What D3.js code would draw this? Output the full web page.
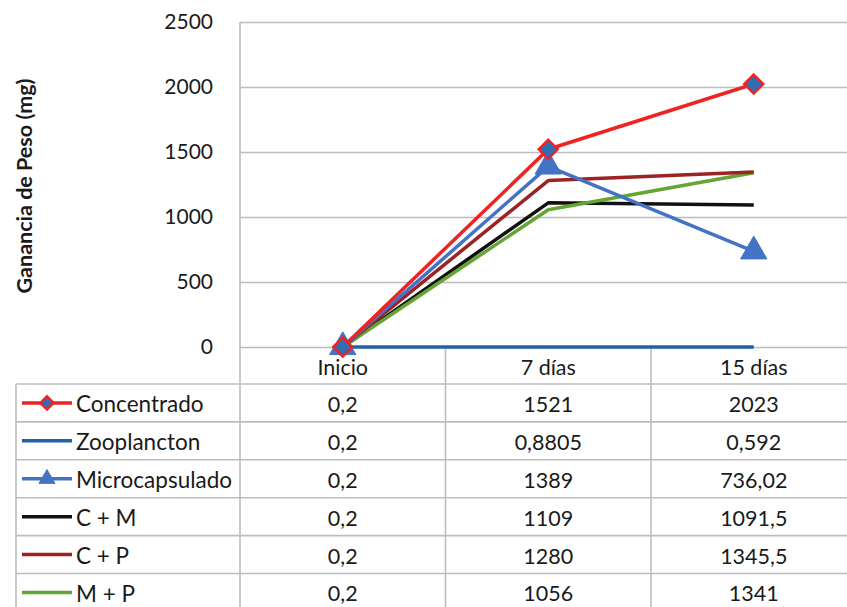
<!DOCTYPE html>
<html>
<head>
<meta charset="utf-8">
<script src="https://cdn.jsdelivr.net/npm/d3@7/dist/d3.min.js"></script>
<style>
  html, body { margin: 0; padding: 0; background: #fff; }
  svg { display: block; }
  text { font-family: Lato, "Open Sans", sans-serif; fill: #1a1a1a; }
</style>
</head>
<body>
<svg id="chart" width="847" height="607"></svg>
<script>
// ---- Data ----
const categories = ["Inicio", "7 días", "15 días"];
const seriesNames = ["Concentrado", "Zooplancton", "Microcapsulado", "C + M", "C + P", "M + P"];
const concentrado    = [0.2, 1521, 2023];
const zooplancton    = [0.2, 0.8805, 0.592];
const microcapsulado = [0.2, 1389, 736.02];
const cm             = [0.2, 1109, 1091.5];
const cp             = [0.2, 1280, 1345.5];
const mp             = [0.2, 1056, 1341];
const yTicks = [0, 500, 1000, 1500, 2000, 2500];
const yTitle = "Ganancia de Peso (mg)";

const seriesValues = [concentrado, zooplancton, microcapsulado, cm, cp, mp];
const seriesColors = ["#ee2424", "#2460a8", "#4472c4", "#111111", "#9b2323", "#65a534"];
const seriesMarkers = ["diamond", null, "triangle", null, null, null];

const series = seriesNames.map((n, i) => ({
  name: n, values: seriesValues[i], color: seriesColors[i], marker: seriesMarkers[i]
}));

// ---- Layout ----
const svg = d3.select("#chart");
const plotLeft = 240, plotTop = 22, plotBottom = 347;
const colW = 205.5;
const tableLeft = 16, tableTop = 384, rowH = 37.9;
const gridColor = "#bdbdbd";

const x = d3.scaleBand().domain(categories).range([plotLeft, plotLeft + colW * categories.length]).padding(0);
const xc = c => x(c) + x.bandwidth() / 2;
const y = d3.scaleLinear().domain([0, 2500]).range([plotBottom, plotTop]);

// gridlines + y labels
const yAxis = d3.axisLeft(y).tickValues(yTicks).tickSizeInner(-(847 - plotLeft)).tickSizeOuter(0).tickPadding(27)
  .tickFormat(d3.format("d"));
const gy = svg.append("g").attr("transform", `translate(${plotLeft},0)`).call(yAxis);
gy.select(".domain").remove();
gy.selectAll(".tick line").attr("stroke", gridColor).attr("stroke-width", 1.6);
gy.selectAll(".tick text").attr("font-size", 21).attr("fill", "#1a1a1a")
  .style("font-family", "Lato, sans-serif");

// y title
svg.append("text")
  .attr("transform", `translate(24,186) rotate(-90)`)
  .attr("text-anchor", "middle").attr("dominant-baseline", "central")
  .attr("font-size", 21.5).attr("font-weight", "bold").text(yTitle);

// ---- Table grid ----
const tableRight = 847;
const nRows = series.length;
const tg = svg.append("g").attr("stroke", gridColor).attr("stroke-width", 1.6);
tg.append("line").attr("x1", plotLeft).attr("x2", plotLeft).attr("y1", plotTop).attr("y2", 607);
categories.slice(1).forEach(c => {
  tg.append("line").attr("x1", x(c)).attr("x2", x(c)).attr("y1", plotBottom).attr("y2", 607);
});
tg.append("line").attr("x1", tableLeft).attr("x2", tableLeft).attr("y1", tableTop).attr("y2", 607);
d3.range(nRows).forEach(i => {
  const yy = tableTop + i * rowH;
  tg.append("line").attr("x1", tableLeft).attr("x2", tableRight).attr("y1", yy).attr("y2", yy);
});

// header labels
svg.append("g").selectAll("text").data(categories).join("text")
  .attr("x", d => xc(d)).attr("y", (plotBottom + tableTop) / 2 + 1)
  .attr("text-anchor", "middle").attr("dominant-baseline", "central")
  .attr("font-size", 21.5).text(d => d);

// value cells
const fmt = v => String(v).replace(".", ",");
series.forEach((s, i) => {
  const cy = tableTop + i * rowH + rowH / 2;
  svg.append("g").selectAll("text").data(s.values).join("text")
    .attr("x", (d, j) => xc(categories[j])).attr("y", cy + 1)
    .attr("text-anchor", "middle").attr("dominant-baseline", "central")
    .attr("font-size", 21.5).text(d => fmt(d));
});

// ---- Marker helpers ----
function drawMarker(g, type, cx, cy, s, size) {
  if (type === "diamond") {
    g.append("path")
      .attr("d", d3.symbol().type(d3.symbolDiamond2).size(size)())
      .attr("transform", `translate(${cx},${cy})`)
      .attr("fill", "#2f6db5").attr("stroke", s.color).attr("stroke-width", 2.5);
  } else if (type === "triangle") {
    g.append("path")
      .attr("d", d3.symbol().type(d3.symbolTriangle).size(size)())
      .attr("transform", `translate(${cx},${cy})`)
      .attr("fill", s.color).attr("stroke", s.color).attr("stroke-width", 1);
  }
}

// ---- Legend keys ----
series.forEach((s, i) => {
  const cy = tableTop + i * rowH + rowH / 2;
  const g = svg.append("g");
  g.append("line").attr("x1", 22).attr("x2", 72).attr("y1", cy).attr("y2", cy)
    .attr("stroke", s.color).attr("stroke-width", 3.5);
  if (s.marker) drawMarker(g, s.marker, 47, cy, s, s.marker === "diamond" ? 110 : 110);
  svg.append("text").attr("x", 76).attr("y", cy + 1).attr("dominant-baseline", "central")
    .attr("font-size", 22.5).text(s.name);
});

// ---- Lines ----
const line = d3.line().x((d, j) => xc(categories[j])).y(d => y(d));
const drawOrder = [1, 3, 5, 4, 2, 0];
drawOrder.forEach(i => {
  const s = series[i];
  svg.append("path").datum(s.values).attr("d", line)
    .attr("fill", "none").attr("stroke", s.color).attr("stroke-width", 3.5)
    .attr("stroke-linejoin", "round");
});
// markers
[2, 0].forEach(i => {
  const s = series[i];
  const g = svg.append("g");
  s.values.forEach((v, j) => {
    drawMarker(g, s.marker, xc(categories[j]), y(v), s, s.marker === "diamond" ? 230 : 300);
  });
});
</script>
</body>
</html>
